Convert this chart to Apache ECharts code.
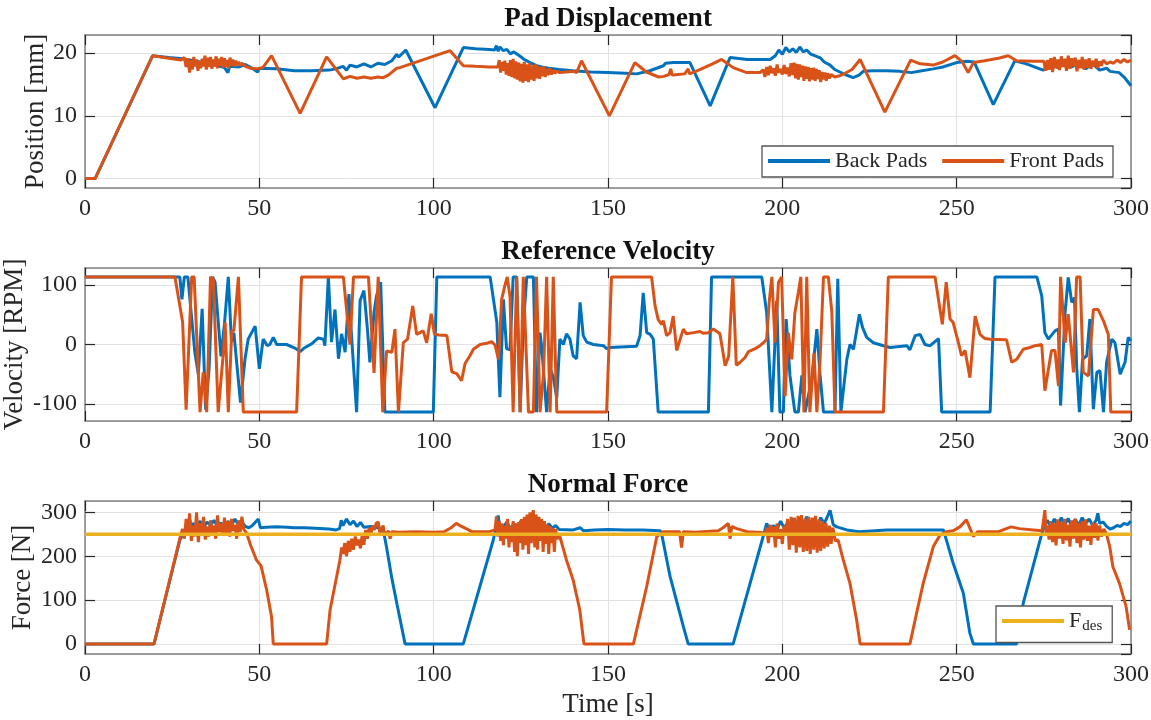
<!DOCTYPE html>
<html>
<head>
<meta charset="UTF-8">
<title>Pad Displacement / Reference Velocity / Normal Force</title>
<script src="https://cdn.jsdelivr.net/npm/echarts@6.0.0/dist/echarts.min.js"></script>
<style>
html, body { margin: 0; padding: 0; background: #fff; }
#chart { width: 1151px; height: 720px; }
</style>
</head>
<body>
<div id="chart"></div>
<script>
// ---- data, [time s, value] ----
var posBack = [[0,0],[2.9,0],[19.4,19.6],[24,19.3],[28,19.1],[30,18.9],[33,18.6],[36,18.3],[38,18.0],[40,17.7],[41,16.9],[41.5,17.9],[44,17.8],[46,18.2],[48,17.6],[49.5,17.0],[50,17.6],[55,17.5],[60,17.2],[65,17.2],[70,17.3],[72,17.5],[74,17.9],[75,17.3],[76,18.1],[78,17.8],[80,18.3],[82,17.8],[84,18.4],[86,18.2],[88,18.8],[89.4,19.8],[90,19.4],[92,20.5],[100.4,11.3],[108.5,20.9],[112,20.7],[116,20.6],[117.5,20.5],[118,21.2],[118.5,20.3],[119,21.0],[120,20.4],[121,20.6],[122,19.9],[123,20.2],[124.8,19.5],[126,19.0],[127,18.7],[128,18.4],[129.5,18.0],[131,17.8],[133,17.6],[136,17.4],[140,17.2],[145,17.0],[150,16.9],[155,16.8],[158.2,16.7],[162,17.2],[165.9,18.0],[166.5,18.4],[168.8,18.5],[173.5,18.5],[179.3,11.6],[185,19.3],[190,19.0],[196.5,19.0],[198,19.6],[199,20.5],[200,19.8],[201,20.9],[202,20.2],[203,20.7],[204,20.1],[205,21.0],[206,20.2],[207,20.5],[208,19.9],[209.8,19.5],[211,19.2],[212,18.6],[213.7,18.1],[215,17.4],[216.5,17.0],[218,16.6],[220.3,16.1],[222,16.5],[223.2,17.1],[226,17.2],[230,17.2],[233.7,17.1],[237,16.9],[240,17.2],[243.3,17.5],[246,17.8],[250,18.5],[253,18.7],[255,18.6],[260.5,11.8],[266.7,18.8],[270,18.3],[274.8,17.3],[277,17.7],[278,18.8],[279,17.6],[281,18.5],[283,17.8],[285,18.4],[287,17.5],[289,18.3],[291,17.3],[293,17.6],[294,17.1],[296.6,16.9],[298,16.2],[300,14.8]];

var posFront = [[0,0],[2.9,0],[19.4,19.6],[24,19.2],[27.5,18.9],[28,18.6],[28.5,19.3],[29,17.8],[29.5,19.2],[30,16.9],[30.4,18.9],[30.8,17.4],[31.2,19.4],[31.6,17.9],[32,19.0],[32.4,17.2],[32.8,18.7],[33.2,17.6],[33.6,19.1],[34,17.9],[34.4,19.6],[34.8,17.4],[35.2,19.3],[35.6,17.8],[36,19.4],[36.4,17.5],[36.8,19.0],[37.2,17.9],[37.6,19.5],[38,17.6],[38.4,19.1],[38.8,18.0],[39.2,19.4],[39.6,17.7],[40,19.2],[40.4,17.8],[40.8,18.9],[41.2,17.6],[41.6,19.3],[42,18.0],[42.4,19.0],[42.8,17.9],[43.2,18.8],[43.6,18.1],[44,18.6],[44.5,18.0],[45,18.4],[46,17.9],[47.5,17.6],[49.2,17.5],[51,17.7],[53.5,19.6],[61.7,10.4],[69.3,19.4],[74.1,15.9],[76,16.3],[78,16.0],[80,16.2],[82,16.0],[84,16.2],[85.5,16.1],[87,16.5],[89.4,17.6],[90.3,17.7],[104.7,20.4],[108.5,18.0],[112,17.9],[116,17.8],[118.4,17.8],[118.8,18.9],[119.2,16.9],[119.6,18.6],[120,17.2],[120.4,18.8],[120.8,16.6],[121.2,18.4],[121.6,16.4],[122,18.9],[122.4,16.2],[122.8,19.1],[123.2,16.0],[123.6,18.7],[124,15.8],[124.4,18.5],[124.8,15.5],[125.2,18.3],[125.6,15.3],[126,18.6],[126.4,15.6],[126.8,18.2],[127.2,15.4],[127.6,18.4],[128,15.8],[128.4,18.0],[128.8,15.6],[129.2,18.2],[129.6,16.0],[130,17.9],[130.4,15.9],[130.8,17.8],[131.2,16.3],[131.6,17.9],[132,16.2],[132.4,17.5],[132.8,16.5],[133.3,17.6],[133.8,16.6],[134.3,17.3],[134.8,16.8],[135.4,17.2],[136,16.9],[138,17.0],[140,17.1],[141,16.9],[142.4,18.8],[150.4,10.0],[157.7,18.5],[161,17.0],[164.5,16.2],[166,16.3],[167.5,16.6],[168,17.5],[168.4,16.5],[170,16.6],[172,16.7],[173,17.5],[173.4,16.7],[176,17.3],[180,18.3],[182.6,19.0],[185.9,17.7],[189.8,16.9],[193.6,16.9],[194.5,17.4],[195,16.2],[195.5,17.8],[196,16.5],[196.5,18.0],[197,16.8],[197.5,17.6],[198,16.4],[198.5,18.2],[199,16.9],[199.5,17.5],[200,16.6],[200.5,18.1],[201,16.7],[201.5,17.7],[202,16.3],[202.5,18.4],[203,16.5],[203.4,18.5],[203.8,16.0],[204.2,18.3],[204.6,15.8],[205,18.2],[205.4,16.2],[205.8,18.0],[206.2,15.6],[206.6,17.9],[207,15.9],[207.4,17.8],[207.8,15.5],[208.2,17.6],[208.6,15.8],[209,17.7],[209.4,15.6],[209.8,17.5],[210.2,15.9],[210.6,17.3],[211,15.4],[211.4,17.0],[211.8,15.8],[212.2,16.9],[212.6,15.6],[213,16.8],[213.5,16.0],[214,16.6],[215,16.2],[216.5,16.4],[218,16.8],[220,17.4],[222.3,19.0],[229.4,10.6],[236.8,18.9],[239.5,18.3],[243.3,18.1],[246,18.6],[249.5,19.6],[251.5,18.7],[253.3,16.9],[254.8,18.5],[258,18.8],[262,19.2],[264.8,19.6],[267.2,18.8],[272,18.7],[275,18.7],[275.5,17.2],[276,18.9],[276.5,17.4],[277,19.2],[277.5,17.0],[278,19.4],[278.5,17.6],[279,19.0],[279.5,17.3],[280,19.5],[280.5,17.8],[281,19.1],[281.5,17.2],[282,19.6],[282.5,17.5],[283,19.2],[283.5,17.9],[284,19.3],[284.5,17.1],[285,18.9],[285.5,17.6],[286,19.4],[286.5,17.4],[287,19.0],[287.5,17.7],[288,19.2],[288.5,17.5],[289,18.8],[289.5,17.9],[290,19.1],[290.5,17.6],[291,18.7],[291.5,18.0],[292,18.9],[293,18.3],[294,18.6],[295,18.4],[296,18.9],[297,18.5],[298,19.0],[299,18.6],[300,18.9]];

var velBack = [[0,114],[26.3,114],[27.2,114],[27.8,76],[28.5,114],[29.5,114],[31.5,-13],[32.5,-50],[33.6,60],[34.6,-110],[35.6,-40],[36.6,114],[37.3,105],[39.0,-20],[40.0,35],[41.1,114],[42.0,5],[42.7,20],[43.5,-30],[44.6,-98],[45.9,-24],[46.8,9],[48.8,31],[50,-41],[51.1,9],[52.3,-2],[53,0],[54,12],[55,0],[57.8,0],[60.2,-6],[61.7,-12],[63.1,-5],[65,1],[66.9,11],[68.4,9],[68.8,-2],[69.8,114],[70.7,4],[71.7,59],[72.7,-24],[73.6,18],[74.6,-13],[75.7,85],[76.5,9],[77.9,-114],[78.9,74],[80,91],[81,26],[81.7,-30],[82.9,54],[83.6,82],[84.8,105],[86,-114],[99.9,-114],[100.9,114],[116.2,114],[118.1,38],[119.0,-89],[120.0,76],[120.9,-7],[121.9,-9],[122.8,114],[123.8,114],[124.8,-114],[125.7,30],[126.7,114],[128.6,114],[129.5,-114],[130.5,20],[131.0,-5],[132.4,-114],[133.4,-40],[134.3,-55],[135.3,-90],[136.2,9],[137.2,0],[138.1,18],[139.1,9],[140.0,-19],[141.0,-24],[142.0,71],[142.9,15],[143.9,4],[145.8,0],[148.7,-2],[149.6,-7],[150.6,-5],[158.2,-3],[159.2,15],[160.1,87],[161.1,20],[162.1,17],[163.0,9],[164.4,-114],[178.8,-114],[179.7,114],[194.1,114],[195.5,54],[197.0,-114],[198.4,74],[199.3,-114],[200.3,-114],[201.1,43],[202.2,-53],[203.6,-114],[204.6,-114],[205.6,-52],[206.5,-114],[208.4,-60],[209.9,26],[210.8,-50],[211.8,-114],[215.1,-114],[215.9,111],[216.8,-114],[218.5,-25],[219.4,0],[220.4,-8],[222.1,51],[223.0,29],[224.2,12],[226.1,3],[229.0,-2],[230.9,-5],[235.7,-2],[236.6,-9],[238.1,15],[239.5,17],[240.9,0],[242.4,-2],[244.8,10],[245.7,-114],[259.6,-114],[261.0,114],[273.0,114],[274.4,82],[275.3,20],[276.3,9],[278.2,23],[279.2,26],[279.8,-103],[281.1,54],[282.0,113],[283.0,71],[283.8,79],[284.4,-36],[285.2,-114],[286.1,-25],[287.3,-19],[288.2,43],[289.2,-109],[290.2,-47],[291.1,-44],[292.1,-114],[293.0,-30],[294.5,9],[295.4,3],[296.9,-50],[298.3,-30],[299.2,12],[300,6]];

var velFront = [[0,114],[25.8,114],[28.0,38],[29.0,-110],[30.6,114],[31.3,114],[33.0,-114],[33.9,-47],[34.9,-114],[36.0,114],[36.8,110],[38.2,-114],[39.7,-13],[40.2,37],[41.1,-114],[42.1,23],[42.7,23],[44.0,114],[45.4,-114],[60.7,-114],[62.1,114],[74.1,114],[76.0,0],[77.0,114],[81.3,114],[82.9,-48],[84.1,114],[85.4,-114],[86.5,-11],[88.0,-13],[88.9,26],[89.9,-114],[91.3,3],[92.5,9],[94.0,65],[95.1,17],[97.0,23],[98.0,3],[98.9,37],[99.3,52],[100.2,18],[101.4,16],[103.8,15],[105.2,-46],[106.6,-49],[108.0,-61],[109.0,-32],[110.4,-19],[111.4,-8],[113.3,0],[115.2,2],[116.6,5],[117.6,-1],[118.6,-25],[119.5,76],[120.4,99],[121.1,114],[121.9,80],[122.8,-114],[123.8,114],[124.8,-114],[125.7,114],[127.2,-114],[128.6,-114],[129.5,114],[130.5,-114],[131.5,-50],[132.4,114],[133.4,-114],[134.3,114],[135.3,-114],[149.6,-114],[151.0,114],[162.5,114],[163.5,65],[164.4,42],[165.4,34],[165.9,40],[166.8,15],[167.8,20],[168.7,48],[169.7,-10],[170.6,7],[171.6,26],[172.5,18],[174.5,20],[176.4,22],[177.3,19],[178.8,20],[180.2,26],[182.1,18],[183.6,-36],[184.6,-20],[185.8,114],[186.8,-35],[187.9,-30],[189.3,-22],[190.3,-12],[192.2,-7],[193.6,-2],[194.6,3],[195.5,9],[196.3,76],[197.0,114],[197.9,3],[198.9,105],[199.8,114],[200.8,-87],[201.7,20],[202.7,-25],[203.6,54],[204.6,88],[205.3,114],[206.2,-114],[207.0,114],[207.9,-114],[209.1,-14],[209.9,-114],[210.8,-30],[211.8,114],[213.2,114],[214.2,54],[215.1,-114],[229.0,-114],[230.4,114],[243.8,114],[245.2,60],[245.9,34],[247.0,105],[248.1,43],[249.0,37],[250.5,3],[251.4,-19],[252.4,-10],[253.8,-56],[255.3,48],[256.7,17],[258.1,10],[259.6,9],[264.3,8],[265.8,-30],[267.2,-25],[269.1,-8],[271.0,-5],[272.5,-2],[274.4,0],[275.3,-78],[277.2,-10],[278.2,-10],[279.2,-70],[279.8,114],[281.1,3],[282.0,51],[283.5,-47],[284.4,114],[285.4,114],[286.3,-47],[287.8,-53],[289.2,59],[290.6,59],[292.1,40],[293.5,17],[294.2,-114],[300,-114]];

var forceBack = [[0,0],[19.8,0],[27.2,237],[28,250],[29,262],[30,285],[30.5,265],[31,275],[32,268],[33,280],[34,266],[35,278],[36,270],[37,282],[38,268],[39,276],[40,265],[41,280],[42,270],[43,285],[44,272],[45,278],[46,268],[47,265],[48,270],[49.7,285],[50.3,265],[52,266],[55,267],[58,266],[60,265],[63,265],[66,264],[70,262],[72,260],[73,263],[73.5,282],[74,270],[75,285],[76,272],[77,280],[78,268],[79,277],[80,266],[82,268],[84,265],[85.5,262],[86.5,220],[88,150],[89.5,90],[91.8,0],[108.5,0],[117.1,237],[118,270],[118.5,293],[119,262],[120,267],[121,278],[122,262],[123,275],[124,260],[125,280],[126,262],[127,276],[128,265],[129,283],[130,266],[131,278],[132,262],[133,274],[134,264],[135,270],[136,261],[140,260],[142,265],[143,258],[146,260],[150,261],[155,260],[160,260],[165,258],[165.4,250],[167.8,154],[171.6,40],[173,0],[185.9,0],[194.5,245],[195.5,275],[196.5,258],[197.5,270],[198.5,262],[199.5,280],[200.5,265],[201.5,275],[202.5,268],[203.2,286],[204,270],[205,288],[206,272],[207,290],[208,276],[209,285],[210,270],[211,288],[212,275],[212.7,286],[213.7,305],[214.6,272],[215.6,267],[218.5,260],[222,256],[230,260],[240,260],[246.2,260],[249.0,184],[251.9,116],[253.8,24],[254.8,0],[267.2,0],[269.1,93],[274.3,248],[275,265],[276,282],[277,268],[278,285],[279,270],[280,288],[281,272],[282,286],[283,268],[284,284],[285,270],[286,288],[287,275],[288,285],[289,270],[290,282],[290.5,298],[291,275],[292,278],[293,268],[294,262],[295,265],[296,270],[297,268],[298,275],[299,272],[300,280]];

var forceFront = [[0,0],[19.8,0],[27.5,250],[28,262],[28.5,240],[29,285],[29.5,250],[30,298],[30.5,235],[31,270],[31.5,245],[32,300],[32.5,232],[33,275],[33.5,250],[34,290],[34.5,238],[35,268],[35.5,245],[36,282],[36.5,252],[37,270],[37.5,240],[38,293],[38.5,255],[39,275],[39.5,248],[40,288],[40.5,250],[41,280],[41.5,245],[42,285],[42.5,258],[43,272],[43.5,240],[44,282],[44.5,255],[45,290],[45.5,262],[46.4,252],[47.5,225],[49.2,191],[50.5,178],[52.1,123],[53.5,62],[54,0],[69.3,0],[70.3,78],[73.1,191],[73.6,220],[74,205],[74.5,230],[75,200],[75.5,235],[76,210],[76.5,240],[77,215],[77.5,245],[78,225],[78.5,238],[79,218],[79.5,248],[80,226],[80.5,260],[81,240],[81.5,265],[82,250],[82.5,270],[83,260],[83.5,275],[84.1,278],[84.6,252],[85.5,270],[86,248],[87,258],[87.5,240],[88,256],[90,255],[95,256],[100,255],[103,256],[105,265],[106.5,275],[108,268],[109.3,263],[111,256],[116,256],[117.6,260],[118,291],[118.4,245],[118.8,280],[119.2,235],[119.6,275],[120,225],[120.4,270],[120.8,240],[121.2,285],[121.6,220],[122,268],[122.4,232],[122.8,280],[123.2,210],[123.6,275],[124,200],[124.4,278],[124.8,230],[125.2,285],[125.6,215],[126,290],[126.4,225],[126.8,295],[127.2,205],[127.6,300],[128,230],[128.4,298],[128.6,305],[129,220],[129.4,295],[129.8,215],[130.2,290],[130.6,235],[131,285],[131.4,210],[131.8,280],[132.2,228],[132.6,272],[133,205],[133.4,268],[133.8,230],[134.2,265],[134.6,210],[135,262],[135.4,240],[136.2,245],[138.1,191],[140,146],[141.9,78],[143.1,0],[157.3,0],[161.1,131],[164,245],[165.9,256],[170.5,256],[171.1,220],[171.6,256],[175,255],[181.6,258],[183,265],[184.5,275],[185,240],[185.5,268],[186.9,263],[190,256],[194,254],[195,249],[195.5,265],[196,230],[196.5,272],[197,244],[197.5,268],[198,220],[198.5,275],[199,240],[199.5,262],[200,228],[200.5,270],[201,250],[201.5,285],[202,215],[202.5,290],[203,225],[203.5,288],[204,208],[204.5,292],[205,220],[205.5,294],[206,210],[206.5,286],[207,212],[207.5,290],[208,205],[208.5,288],[209,215],[209.5,292],[210,208],[210.5,284],[211,212],[211.5,280],[212,218],[212.5,276],[213,222],[213.5,270],[214,228],[214.5,265],[215.2,235],[216,237],[217.5,191],[219.4,138],[221.3,55],[222.3,0],[236.6,0],[238.5,70],[240.4,138],[243.3,222],[245.2,248],[247.1,256],[249,258],[250.9,267],[252.8,283],[254.8,245],[256,256],[262,256],[265.6,267],[268,263],[272,260],[274.5,258],[275.3,305],[275.7,248],[276,270],[276.5,238],[277,280],[277.5,232],[278,275],[278.5,225],[279,284],[279.5,240],[280,278],[280.5,228],[281,285],[281.5,236],[282,272],[282.5,222],[283,282],[283.5,240],[284,286],[284.5,230],[285,276],[285.5,220],[286,280],[286.5,238],[287,284],[287.5,235],[288,270],[288.5,226],[289,278],[289.5,242],[290,275],[290.5,236],[291,270],[291.5,245],[292.2,262],[292.9,252],[293.9,222],[294.8,176],[296.7,138],[298.6,85],[299.6,32]];

var forceDes = [[0,250],[300,250]];

var panelTitles = ['Pad Displacement', 'Reference Velocity', 'Normal Force'];
var yNames = ['Position [mm]', 'Velocity [RPM]', 'Force [N]'];
var yRanges = [[-1.5, 22.9, 10], [-129, 129, 100], [-23, 326, 100]];
var xTicks = [0, 300, 50];

// ---- layout / style ----
var FONT = 'Liberation Serif';
var TXT = '#262626';
var BLUE = '#0072BD', ORANGE = '#D95319', YELLOW = '#EDB120';
var tops = [35, 268, 501];
var plotH = 153;
var nameGaps = [36, 57, 49];

var chart = echarts.init(document.getElementById('chart'));

var grid = [], xAxis = [], yAxis = [], title = [];
tops.forEach(function (t, i) {
    grid.push({ left: 85, right: 20, top: t, height: plotH, outerBoundsMode: 'none', containLabel: false });
    title.push({
        text: panelTitles[i], left: 608, top: t - 29, padding: 0, textAlign: 'center',
        textStyle: { fontFamily: FONT, fontSize: 27, fontWeight: 'bold', color: '#111' }
    });
    var axLine = { onZero: false, lineStyle: { color: '#808080', width: 1.5 } };
    var tick = { inside: true, length: 10, lineStyle: { color: TXT, width: 1.2 } };
    var grey = { show: true, lineStyle: { color: '#e2e2e2', width: 1 } };
    xAxis.push({
        type: 'value', gridIndex: i, position: 'bottom',
        min: xTicks[0], max: xTicks[1], interval: xTicks[2],
        axisLine: axLine, axisTick: tick, splitLine: grey,
        axisLabel: { color: TXT, fontFamily: FONT, fontSize: 24, margin: 9 },
        name: i === 2 ? 'Time [s]' : '', nameLocation: 'middle', nameGap: 37, nameMoveOverlap: false,
        nameTextStyle: { color: TXT, fontFamily: FONT, fontSize: 27 }
    });
    xAxis.push({
        type: 'value', gridIndex: i, position: 'top',
        min: xTicks[0], max: xTicks[1], interval: xTicks[2],
        axisLine: axLine, axisTick: tick, splitLine: { show: false }, axisLabel: { show: false }
    });
    var r = yRanges[i];
    yAxis.push({
        type: 'value', gridIndex: i, position: 'left',
        min: r[0], max: r[1], minInterval: r[2], maxInterval: r[2],
        axisLine: axLine, axisTick: tick, splitLine: grey,
        axisLabel: { color: TXT, fontFamily: FONT, fontSize: 24, margin: 8, showMinLabel: false, showMaxLabel: false },
        name: yNames[i], nameLocation: 'middle', nameGap: nameGaps[i], nameMoveOverlap: false,
        nameTextStyle: { color: TXT, fontFamily: FONT, fontSize: 27 }
    });
    yAxis.push({
        type: 'value', gridIndex: i, position: 'right',
        min: r[0], max: r[1], minInterval: r[2], maxInterval: r[2],
        axisLine: axLine, axisTick: tick, splitLine: { show: false }, axisLabel: { show: false }
    });
});

function line(name, data, color, panel, width) {
    return {
        name: name, type: 'line', data: data,
        xAxisIndex: panel * 2, yAxisIndex: panel * 2,
        symbol: 'none', showSymbol: false, animation: false,
        lineStyle: { color: color, width: width }, itemStyle: { color: color }
    };
}

var legendText = { fontFamily: FONT, fontSize: 22, color: TXT };

chart.setOption({
    backgroundColor: '#fff',
    animation: false,
    title: title,
    grid: grid,
    xAxis: xAxis,
    yAxis: yAxis,
    legend: [{
        data: ['Back Pads', 'Front Pads'], left: 762, top: 146,
        icon: 'rect', itemWidth: 62, itemHeight: 4, itemGap: 15,
        padding: [4, 9, 5, 6], borderColor: '#555', borderWidth: 1.3,
        backgroundColor: '#fff', selectedMode: false, textStyle: legendText
    }, {
        data: ['Fdes'], left: 996, top: 606,
        icon: 'rect', itemWidth: 62, itemHeight: 4,
        padding: [4, 10, 9, 6], borderColor: '#555', borderWidth: 1.3,
        backgroundColor: '#fff', selectedMode: false,
        formatter: function () { return '{a|F}{b|des}'; },
        textStyle: {
            fontFamily: FONT, color: TXT,
            rich: {
                a: { fontFamily: FONT, fontSize: 22, color: TXT },
                b: { fontFamily: FONT, fontSize: 15, color: TXT, padding: [10, 0, 0, 1] }
            }
        }
    }],
    series: [
        line('Back Pads', posBack, BLUE, 0, 3),
        line('Front Pads', posFront, ORANGE, 0, 3),
        line('Back Pads', velBack, BLUE, 1, 3),
        line('Front Pads', velFront, ORANGE, 1, 3),
        line('Back Pads', forceBack, BLUE, 2, 3),
        line('Front Pads', forceFront, ORANGE, 2, 3),
        line('Fdes', forceDes, YELLOW, 2, 3.5)
    ]
});
</script>
</body>
</html>
